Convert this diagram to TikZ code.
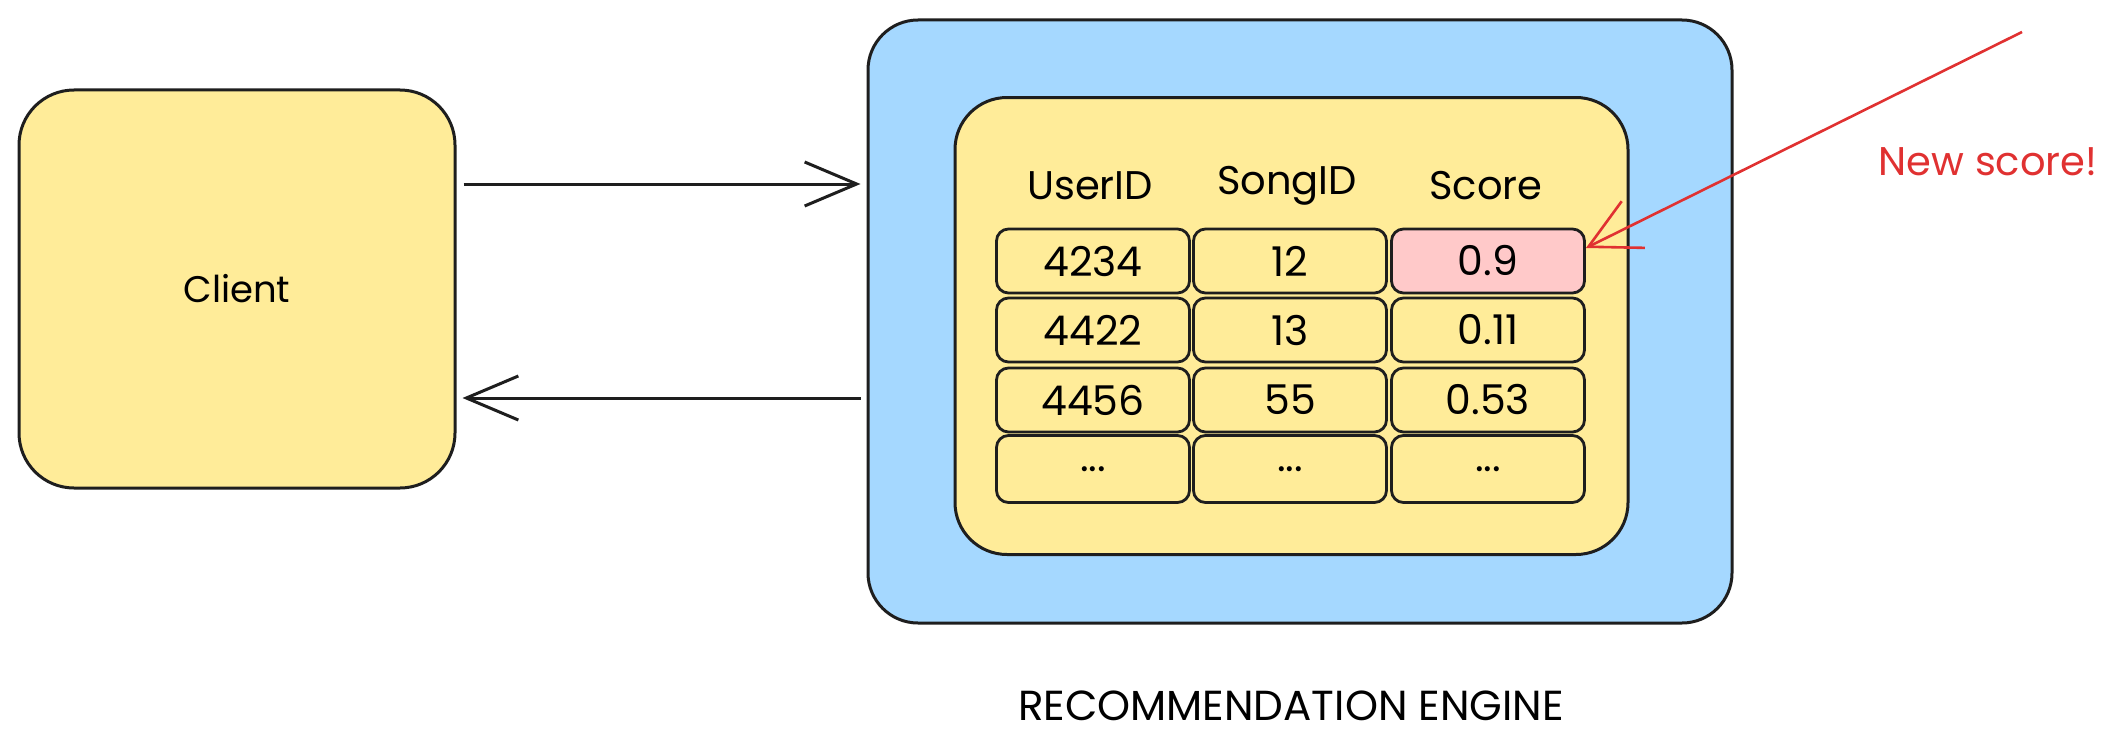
\documentclass[tikz,border=0pt]{standalone}
\usepackage{fontspec}
\setmainfont{Poppins}
\usetikzlibrary{arrows.meta,calc}
\definecolor{ink}{HTML}{1E1E1E}
\definecolor{yel}{HTML}{FFEC99}
\definecolor{blu}{HTML}{A5D8FF}
\definecolor{pnk}{HTML}{FFC9C9}
\definecolor{rd}{HTML}{E03131}
\begin{document}
\begin{tikzpicture}[x=1pt,y=-1pt,
  bigbox/.style={draw=ink,line width=3pt,inner sep=0pt},
  cellbox/.style={draw=ink,fill=yel,line width=2.8pt,rounded corners=12pt,
    minimum width=193pt,minimum height=64pt,inner sep=0pt,
    font=\fontsize{41}{44}\selectfont},
  head/.style={font=\fontsize{40}{44}\selectfont,inner sep=0pt},
  arr/.style={draw=ink,line width=3pt,
    -{Straight Barb[length=52pt,width=44pt,line width=3pt]}},
  redarr/.style={draw=rd,line width=2.6pt,
    -{Straight Barb[length=50pt,width=52pt,line width=2.6pt]}}]
\useasboundingbox (0,0) rectangle (2113,752);
% client
\node[bigbox,fill=yel,rounded corners=55pt,minimum width=436pt,minimum height=398pt,
  font=\fontsize{37}{42}\selectfont] (client) at (237,289) {Client};
% engine
\node[bigbox,fill=blu,rounded corners=50pt,minimum width=864pt,minimum height=603pt] (engine) at (1300,321.5) {};
\node[bigbox,fill=yel,rounded corners=52pt,minimum width=673pt,minimum height=457pt] (table) at (1291.5,326) {};
\node[font=\fontsize{42}{46}\selectfont,inner sep=0pt] (enginelabel) at (1291,706) {RECOMMENDATION ENGINE};
% headers
\node[head] (h1) at (1090,186) {UserID};
\node[head] (h2) at (1287,186) {SongID};
\node[head] (h3) at (1486,186) {Score};
% cells
\node[cellbox] (c11) at (1093,261) {4234};
\node[cellbox] (c12) at (1290,261) {12};
\node[cellbox,fill=pnk] (c13) at (1488,261) {0.9};
\node[cellbox] (c21) at (1093,330) {4422};
\node[cellbox] (c22) at (1290,330) {13};
\node[cellbox] (c23) at (1488,330) {0.11};
\node[cellbox] (c31) at (1093,400) {4456};
\node[cellbox] (c32) at (1290,400) {55};
\node[cellbox] (c33) at (1488,400) {0.53};
\node[cellbox,minimum height=67pt] (c41) at (1093,469) {...};
\node[cellbox,minimum height=67pt] (c42) at (1290,469) {...};
\node[cellbox,minimum height=67pt] (c43) at (1488,469) {...};
% connectors
\draw[arr] ([xshift=7pt,yshift=105pt]client.east) -- ([xshift=-6pt,yshift=137.5pt]engine.west);
\draw[arr] ([xshift=-6pt,yshift=-76.5pt]engine.west) -- ([xshift=6pt,yshift=-109pt]client.east);
% annotation
\coordinate (rs) at (2022,32);
\draw[redarr] (rs) -- ([yshift=13pt]c13.east);
\node[font=\fontsize{40}{44}\selectfont,text=rd,inner sep=0pt] (note) at (1988,162) {New score!};
\end{tikzpicture}
\end{document}
